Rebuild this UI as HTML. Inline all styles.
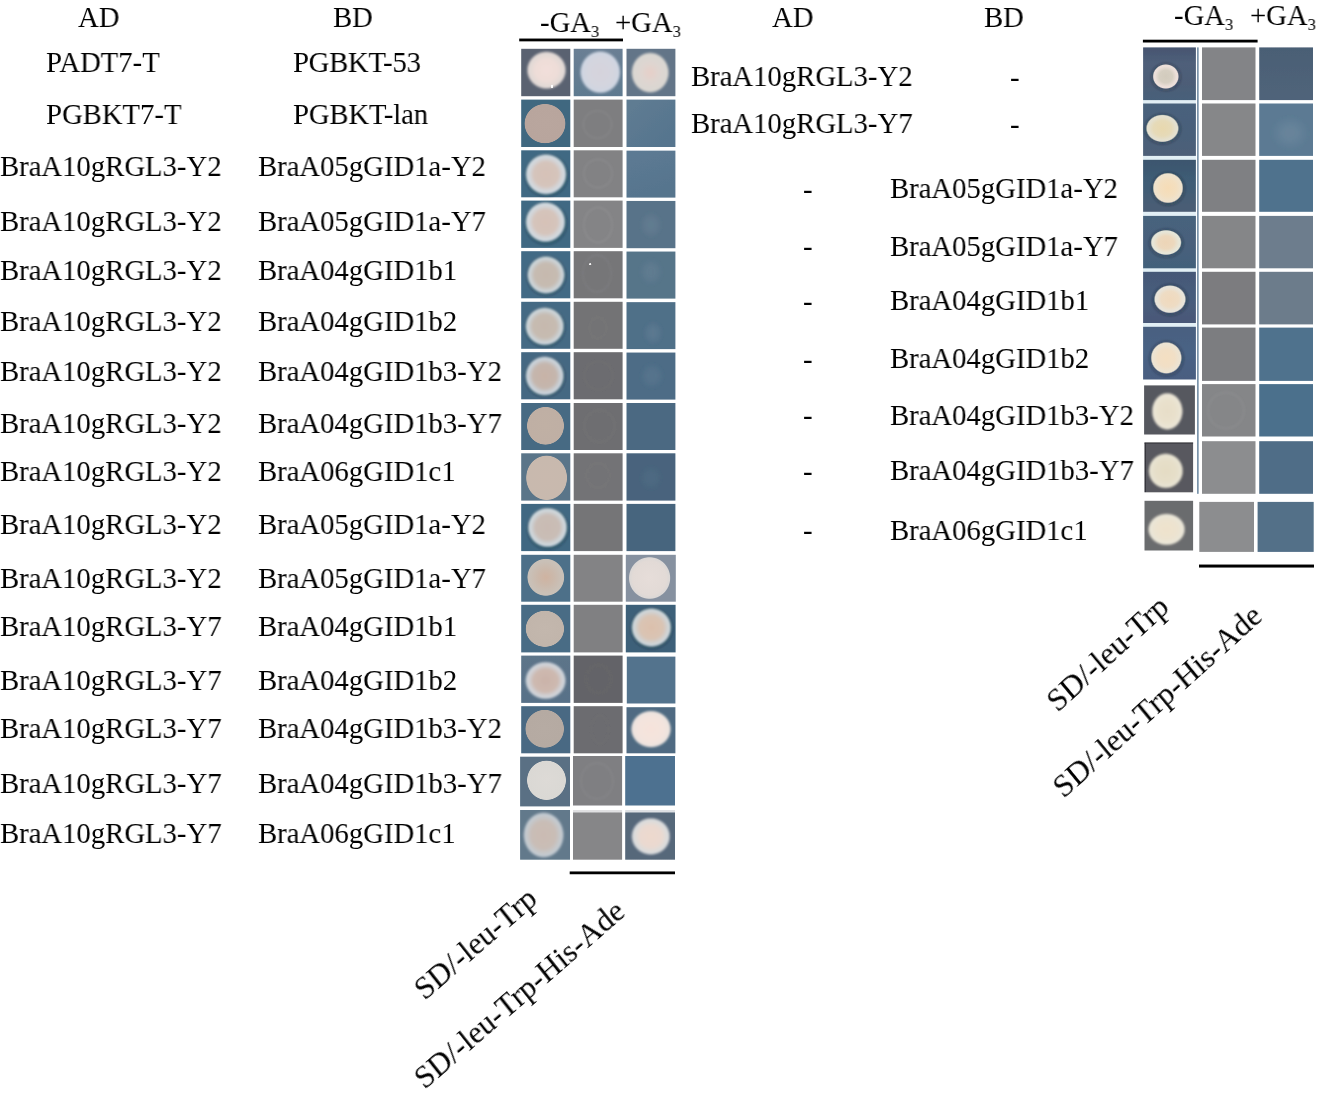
<!DOCTYPE html>
<html lang="en"><head><meta charset="utf-8"><title>Yeast two-hybrid assay</title>
<style>
html,body{margin:0;padding:0;background:#fff}
body{width:1322px;height:1096px;position:relative;overflow:hidden}
.t{position:absolute;font-family:"Liberation Serif","Times New Roman",serif;font-size:29.0px;line-height:29.0px;white-space:nowrap;color:#000;transform-origin:0 0;transform:scaleX(0.9895);will-change:transform}
.r{font-size:30.5px;line-height:30.5px}
.t sub{font-size:16.8px;line-height:0;vertical-align:-4.8px}
.plates{position:absolute;left:0;top:0}
</style></head>
<body>
<svg class="plates" width="1322" height="1096" viewBox="0 0 1322 1096" aria-label="yeast plates"><defs><filter id="soft" x="0" y="0" width="100%" height="100%" filterUnits="userSpaceOnUse"><feGaussianBlur stdDeviation="0.45"/></filter><radialGradient id="g1"><stop offset="0.000" stop-color="#f2dfda"/><stop offset="0.550" stop-color="#eeddd8"/><stop offset="0.820" stop-color="#e2d9d6"/><stop offset="0.910" stop-color="#e2d9d6"/><stop offset="1.000" stop-color="#e2d9d6" stop-opacity="0.00"/></radialGradient><filter id="b0" x="-20%" y="-20%" width="140%" height="140%"><feGaussianBlur stdDeviation="0.9"/></filter><radialGradient id="g2"><stop offset="0.000" stop-color="#ffffff"/><stop offset="0.800" stop-color="#ffffff"/><stop offset="1.000" stop-color="#ffffff" stop-opacity="0.00"/></radialGradient><filter id="b1" x="-20%" y="-20%" width="140%" height="140%"><feGaussianBlur stdDeviation="0.3"/></filter><linearGradient id="l3" x1="0.500" y1="0.000" x2="0.500" y2="1.000"><stop offset="0.000" stop-color="#6a7f94"/><stop offset="1.000" stop-color="#5f7a90"/></linearGradient><radialGradient id="g4"><stop offset="0.000" stop-color="#d6d3dc"/><stop offset="0.700" stop-color="#d3d5df"/><stop offset="0.880" stop-color="#cfd6e2"/><stop offset="0.910" stop-color="#cfd6e2"/><stop offset="1.000" stop-color="#cfd6e2" stop-opacity="0.00"/></radialGradient><filter id="b2" x="-20%" y="-20%" width="140%" height="140%"><feGaussianBlur stdDeviation="1.0"/></filter><radialGradient id="g5"><stop offset="0.000" stop-color="#e6cfc8"/><stop offset="0.450" stop-color="#dfd5d0"/><stop offset="0.800" stop-color="#dad7d2"/><stop offset="0.910" stop-color="#dad7d2"/><stop offset="1.000" stop-color="#dad7d2" stop-opacity="0.00"/></radialGradient><radialGradient id="g6"><stop offset="0.000" stop-color="#b9a69e"/><stop offset="0.960" stop-color="#b8a59d"/><stop offset="1.000" stop-color="#b8a59d" stop-opacity="0.00"/></radialGradient><filter id="b3" x="-20%" y="-20%" width="140%" height="140%"><feGaussianBlur stdDeviation="0.35"/></filter><radialGradient id="g7"><stop offset="0.000" stop-color="#aaaaac" stop-opacity="0.00"/><stop offset="0.880" stop-color="#aaaaac" stop-opacity="0.00"/><stop offset="0.940" stop-color="#aaaaac" stop-opacity="0.28"/><stop offset="1.000" stop-color="#aaaaac" stop-opacity="0.00"/></radialGradient><filter id="b4" x="-20%" y="-20%" width="140%" height="140%"><feGaussianBlur stdDeviation="0.8"/></filter><linearGradient id="l8" x1="0.146" y1="0.146" x2="0.854" y2="0.854"><stop offset="0.000" stop-color="#5e7b92"/><stop offset="1.000" stop-color="#56758e"/></linearGradient><radialGradient id="g9"><stop offset="0.000" stop-color="#141e28" stop-opacity="0.00"/><stop offset="0.700" stop-color="#141e28" stop-opacity="0.00"/><stop offset="0.880" stop-color="#141e28" stop-opacity="0.30"/><stop offset="1.000" stop-color="#141e28" stop-opacity="0.00"/></radialGradient><filter id="b5" x="-20%" y="-20%" width="140%" height="140%"><feGaussianBlur stdDeviation="1.2"/></filter><radialGradient id="g10"><stop offset="0.000" stop-color="#d6c1b7"/><stop offset="0.580" stop-color="#d5c4bb"/><stop offset="0.760" stop-color="#d3d4d7"/><stop offset="0.880" stop-color="#d2dae0"/><stop offset="0.910" stop-color="#d2dae0"/><stop offset="1.000" stop-color="#d2dae0" stop-opacity="0.00"/></radialGradient><radialGradient id="g11"><stop offset="0.000" stop-color="#afafb2" stop-opacity="0.00"/><stop offset="0.880" stop-color="#afafb2" stop-opacity="0.00"/><stop offset="0.940" stop-color="#afafb2" stop-opacity="0.28"/><stop offset="1.000" stop-color="#afafb2" stop-opacity="0.00"/></radialGradient><linearGradient id="l12" x1="0.329" y1="0.030" x2="0.671" y2="0.970"><stop offset="0.000" stop-color="#5c7a93"/><stop offset="1.000" stop-color="#56748d"/></linearGradient><radialGradient id="g13"><stop offset="0.000" stop-color="#141e28" stop-opacity="0.00"/><stop offset="0.700" stop-color="#141e28" stop-opacity="0.00"/><stop offset="0.880" stop-color="#141e28" stop-opacity="0.30"/><stop offset="1.000" stop-color="#141e28" stop-opacity="0.00"/></radialGradient><radialGradient id="g14"><stop offset="0.000" stop-color="#d6c1b7"/><stop offset="0.580" stop-color="#d5c4bb"/><stop offset="0.760" stop-color="#d3d4d7"/><stop offset="0.880" stop-color="#d2dae0"/><stop offset="0.910" stop-color="#d2dae0"/><stop offset="1.000" stop-color="#d2dae0" stop-opacity="0.00"/></radialGradient><radialGradient id="g15"><stop offset="0.000" stop-color="#b2b0b2" stop-opacity="0.00"/><stop offset="0.880" stop-color="#b2b0b2" stop-opacity="0.00"/><stop offset="0.940" stop-color="#b2b0b2" stop-opacity="0.28"/><stop offset="1.000" stop-color="#b2b0b2" stop-opacity="0.00"/></radialGradient><radialGradient id="g16"><stop offset="0.000" stop-color="#788c9e" stop-opacity="0.30"/><stop offset="0.400" stop-color="#788c9e" stop-opacity="0.30"/><stop offset="1.000" stop-color="#788c9e" stop-opacity="0.00"/></radialGradient><filter id="b6" x="-20%" y="-20%" width="140%" height="140%"><feGaussianBlur stdDeviation="1.5"/></filter><radialGradient id="g17"><stop offset="0.000" stop-color="#141e28" stop-opacity="0.00"/><stop offset="0.700" stop-color="#141e28" stop-opacity="0.00"/><stop offset="0.880" stop-color="#141e28" stop-opacity="0.30"/><stop offset="1.000" stop-color="#141e28" stop-opacity="0.00"/></radialGradient><radialGradient id="g18"><stop offset="0.000" stop-color="#c6b9ae"/><stop offset="0.600" stop-color="#c6bbb1"/><stop offset="0.790" stop-color="#cacecf"/><stop offset="0.890" stop-color="#ced7dc"/><stop offset="0.910" stop-color="#ced7dc"/><stop offset="1.000" stop-color="#ced7dc" stop-opacity="0.00"/></radialGradient><radialGradient id="g19"><stop offset="0.000" stop-color="#969698" stop-opacity="0.00"/><stop offset="0.880" stop-color="#969698" stop-opacity="0.00"/><stop offset="0.940" stop-color="#969698" stop-opacity="0.28"/><stop offset="1.000" stop-color="#969698" stop-opacity="0.00"/></radialGradient><radialGradient id="g20"><stop offset="0.000" stop-color="#f4f4f4"/><stop offset="0.800" stop-color="#f4f4f4"/><stop offset="1.000" stop-color="#f4f4f4" stop-opacity="0.00"/></radialGradient><radialGradient id="g21"><stop offset="0.000" stop-color="#708a9e" stop-opacity="0.30"/><stop offset="0.400" stop-color="#708a9e" stop-opacity="0.30"/><stop offset="1.000" stop-color="#708a9e" stop-opacity="0.00"/></radialGradient><radialGradient id="g22"><stop offset="0.000" stop-color="#141e28" stop-opacity="0.00"/><stop offset="0.700" stop-color="#141e28" stop-opacity="0.00"/><stop offset="0.880" stop-color="#141e28" stop-opacity="0.30"/><stop offset="1.000" stop-color="#141e28" stop-opacity="0.00"/></radialGradient><radialGradient id="g23"><stop offset="0.000" stop-color="#c6b9ae"/><stop offset="0.600" stop-color="#c6bbb1"/><stop offset="0.790" stop-color="#cacecf"/><stop offset="0.890" stop-color="#ced7dc"/><stop offset="0.910" stop-color="#ced7dc"/><stop offset="1.000" stop-color="#ced7dc" stop-opacity="0.00"/></radialGradient><radialGradient id="g24"><stop offset="0.000" stop-color="#8c8c8f" stop-opacity="0.00"/><stop offset="0.880" stop-color="#8c8c8f" stop-opacity="0.00"/><stop offset="0.940" stop-color="#8c8c8f" stop-opacity="0.25"/><stop offset="1.000" stop-color="#8c8c8f" stop-opacity="0.00"/></radialGradient><radialGradient id="g25"><stop offset="0.000" stop-color="#738ca0" stop-opacity="0.30"/><stop offset="0.400" stop-color="#738ca0" stop-opacity="0.30"/><stop offset="1.000" stop-color="#738ca0" stop-opacity="0.00"/></radialGradient><radialGradient id="g26"><stop offset="0.000" stop-color="#141e28" stop-opacity="0.00"/><stop offset="0.700" stop-color="#141e28" stop-opacity="0.00"/><stop offset="0.880" stop-color="#141e28" stop-opacity="0.30"/><stop offset="1.000" stop-color="#141e28" stop-opacity="0.00"/></radialGradient><radialGradient id="g27"><stop offset="0.000" stop-color="#c7b3a7"/><stop offset="0.600" stop-color="#c5b6ad"/><stop offset="0.790" stop-color="#c8cdd2"/><stop offset="0.890" stop-color="#ccd5dd"/><stop offset="0.910" stop-color="#ccd5dd"/><stop offset="1.000" stop-color="#ccd5dd" stop-opacity="0.00"/></radialGradient><radialGradient id="g28"><stop offset="0.000" stop-color="#808083" stop-opacity="0.00"/><stop offset="0.880" stop-color="#808083" stop-opacity="0.00"/><stop offset="0.940" stop-color="#808083" stop-opacity="0.25"/><stop offset="1.000" stop-color="#808083" stop-opacity="0.00"/></radialGradient><radialGradient id="g29"><stop offset="0.000" stop-color="#69849b" stop-opacity="0.28"/><stop offset="0.400" stop-color="#69849b" stop-opacity="0.28"/><stop offset="1.000" stop-color="#69849b" stop-opacity="0.00"/></radialGradient><radialGradient id="g30"><stop offset="0.000" stop-color="#c0b0a4"/><stop offset="0.960" stop-color="#bfafa4"/><stop offset="1.000" stop-color="#bfafa4" stop-opacity="0.00"/></radialGradient><radialGradient id="g31"><stop offset="0.000" stop-color="#808083" stop-opacity="0.00"/><stop offset="0.880" stop-color="#808083" stop-opacity="0.00"/><stop offset="0.940" stop-color="#808083" stop-opacity="0.25"/><stop offset="1.000" stop-color="#808083" stop-opacity="0.00"/></radialGradient><clipPath id="c32"><rect x="521.20" y="453.30" width="49.10" height="47.30"/></clipPath><radialGradient id="g33"><stop offset="0.000" stop-color="#c9b9ae"/><stop offset="0.960" stop-color="#c8b9ae"/><stop offset="1.000" stop-color="#c8b9ae" stop-opacity="0.00"/></radialGradient><radialGradient id="g34"><stop offset="0.000" stop-color="#848284" stop-opacity="0.00"/><stop offset="0.880" stop-color="#848284" stop-opacity="0.00"/><stop offset="0.940" stop-color="#848284" stop-opacity="0.25"/><stop offset="1.000" stop-color="#848284" stop-opacity="0.00"/></radialGradient><radialGradient id="g35"><stop offset="0.000" stop-color="#5f788f" stop-opacity="0.25"/><stop offset="0.400" stop-color="#5f788f" stop-opacity="0.25"/><stop offset="1.000" stop-color="#5f788f" stop-opacity="0.00"/></radialGradient><radialGradient id="g36"><stop offset="0.000" stop-color="#141e28" stop-opacity="0.00"/><stop offset="0.700" stop-color="#141e28" stop-opacity="0.00"/><stop offset="0.880" stop-color="#141e28" stop-opacity="0.30"/><stop offset="1.000" stop-color="#141e28" stop-opacity="0.00"/></radialGradient><radialGradient id="g37"><stop offset="0.000" stop-color="#c9bbb3"/><stop offset="0.600" stop-color="#c9bdb6"/><stop offset="0.790" stop-color="#cdd2d5"/><stop offset="0.890" stop-color="#d0d9de"/><stop offset="0.910" stop-color="#d0d9de"/><stop offset="1.000" stop-color="#d0d9de" stop-opacity="0.00"/></radialGradient><radialGradient id="g38"><stop offset="0.000" stop-color="#cfb3a1"/><stop offset="0.400" stop-color="#cbb8aa"/><stop offset="0.850" stop-color="#c9c0b7"/><stop offset="0.950" stop-color="#c9c0b7"/><stop offset="1.000" stop-color="#c9c0b7" stop-opacity="0.00"/></radialGradient><filter id="b7" x="-20%" y="-20%" width="140%" height="140%"><feGaussianBlur stdDeviation="0.5"/></filter><radialGradient id="g39"><stop offset="0.000" stop-color="#e6ddd9"/><stop offset="0.800" stop-color="#e2dad6"/><stop offset="0.920" stop-color="#dcd8d6"/><stop offset="0.950" stop-color="#dcd8d6"/><stop offset="1.000" stop-color="#dcd8d6" stop-opacity="0.00"/></radialGradient><radialGradient id="g40"><stop offset="0.000" stop-color="#c3b7ad"/><stop offset="0.960" stop-color="#c1b5ab"/><stop offset="1.000" stop-color="#c1b5ab" stop-opacity="0.00"/></radialGradient><radialGradient id="g41"><stop offset="0.000" stop-color="#141e28" stop-opacity="0.00"/><stop offset="0.700" stop-color="#141e28" stop-opacity="0.00"/><stop offset="0.880" stop-color="#141e28" stop-opacity="0.30"/><stop offset="1.000" stop-color="#141e28" stop-opacity="0.00"/></radialGradient><radialGradient id="g42"><stop offset="0.000" stop-color="#dcc0ac"/><stop offset="0.580" stop-color="#d9c4b4"/><stop offset="0.780" stop-color="#d0d1d1"/><stop offset="0.890" stop-color="#cfd8dc"/><stop offset="0.910" stop-color="#cfd8dc"/><stop offset="1.000" stop-color="#cfd8dc" stop-opacity="0.00"/></radialGradient><linearGradient id="l43" x1="0.500" y1="0.000" x2="0.500" y2="1.000"><stop offset="0.000" stop-color="#5d7489"/><stop offset="1.000" stop-color="#587188"/></linearGradient><radialGradient id="g44"><stop offset="0.000" stop-color="#cbb3a9"/><stop offset="0.580" stop-color="#cdb9b0"/><stop offset="0.780" stop-color="#d0cfd2"/><stop offset="0.890" stop-color="#cfd4da"/><stop offset="0.910" stop-color="#cfd4da"/><stop offset="1.000" stop-color="#cfd4da" stop-opacity="0.00"/></radialGradient><radialGradient id="g45"><stop offset="0.000" stop-color="#78787b" stop-opacity="0.00"/><stop offset="0.880" stop-color="#78787b" stop-opacity="0.00"/><stop offset="0.940" stop-color="#78787b" stop-opacity="0.25"/><stop offset="1.000" stop-color="#78787b" stop-opacity="0.00"/></radialGradient><radialGradient id="g46"><stop offset="0.000" stop-color="#b6aba3"/><stop offset="0.960" stop-color="#b5aaa2"/><stop offset="1.000" stop-color="#b5aaa2" stop-opacity="0.00"/></radialGradient><radialGradient id="g47"><stop offset="0.000" stop-color="#7e7e81" stop-opacity="0.00"/><stop offset="0.880" stop-color="#7e7e81" stop-opacity="0.00"/><stop offset="0.940" stop-color="#7e7e81" stop-opacity="0.25"/><stop offset="1.000" stop-color="#7e7e81" stop-opacity="0.00"/></radialGradient><radialGradient id="g48"><stop offset="0.000" stop-color="#f6e3db"/><stop offset="0.700" stop-color="#f3e4de"/><stop offset="0.900" stop-color="#ebe3df"/><stop offset="0.940" stop-color="#ebe3df"/><stop offset="1.000" stop-color="#ebe3df" stop-opacity="0.00"/></radialGradient><radialGradient id="g49"><stop offset="0.000" stop-color="#dddad6"/><stop offset="0.960" stop-color="#dad8d4"/><stop offset="1.000" stop-color="#dad8d4" stop-opacity="0.00"/></radialGradient><radialGradient id="g50"><stop offset="0.000" stop-color="#a0a0a3" stop-opacity="0.00"/><stop offset="0.880" stop-color="#a0a0a3" stop-opacity="0.00"/><stop offset="0.940" stop-color="#a0a0a3" stop-opacity="0.25"/><stop offset="1.000" stop-color="#a0a0a3" stop-opacity="0.00"/></radialGradient><clipPath id="c51"><rect x="520.10" y="810.00" width="49.90" height="49.70"/></clipPath><radialGradient id="g52"><stop offset="0.000" stop-color="#cabbb3"/><stop offset="0.580" stop-color="#c9bdb6"/><stop offset="0.800" stop-color="#c5c8cb"/><stop offset="0.900" stop-color="#c3cbd2"/><stop offset="0.910" stop-color="#c3cbd2"/><stop offset="1.000" stop-color="#c3cbd2" stop-opacity="0.00"/></radialGradient><linearGradient id="l53" x1="0.500" y1="0.000" x2="0.500" y2="1.000"><stop offset="0.000" stop-color="#e0e0e2"/><stop offset="0.040" stop-color="#e0e0e2"/><stop offset="0.060" stop-color="#868688"/><stop offset="1.000" stop-color="#868688"/></linearGradient><linearGradient id="l54" x1="0.500" y1="0.000" x2="0.500" y2="1.000"><stop offset="0.000" stop-color="#dde0e4"/><stop offset="0.040" stop-color="#dde0e4"/><stop offset="0.060" stop-color="#56677a"/><stop offset="1.000" stop-color="#56677a"/></linearGradient><radialGradient id="g55"><stop offset="0.000" stop-color="#edd9ce"/><stop offset="0.550" stop-color="#ead9d0"/><stop offset="0.780" stop-color="#dedcda"/><stop offset="0.880" stop-color="#d8dadc"/><stop offset="0.910" stop-color="#d8dadc"/><stop offset="1.000" stop-color="#d8dadc" stop-opacity="0.00"/></radialGradient><linearGradient id="l56" x1="0.500" y1="0.000" x2="0.500" y2="1.000"><stop offset="0.000" stop-color="#465570"/><stop offset="0.300" stop-color="#4f5f7a"/><stop offset="0.700" stop-color="#4d5d77"/><stop offset="1.000" stop-color="#47607a"/></linearGradient><radialGradient id="g57"><stop offset="0.000" stop-color="#191c2a" stop-opacity="0.00"/><stop offset="0.700" stop-color="#191c2a" stop-opacity="0.00"/><stop offset="0.880" stop-color="#191c2a" stop-opacity="0.30"/><stop offset="1.000" stop-color="#191c2a" stop-opacity="0.00"/></radialGradient><radialGradient id="g58"><stop offset="0.000" stop-color="#d2cbbd"/><stop offset="0.500" stop-color="#d6cfc2"/><stop offset="0.800" stop-color="#ecdfd9"/><stop offset="0.910" stop-color="#ecdfd9"/><stop offset="1.000" stop-color="#ecdfd9" stop-opacity="0.00"/></radialGradient><filter id="b8" x="-20%" y="-20%" width="140%" height="140%"><feGaussianBlur stdDeviation="0.7"/></filter><linearGradient id="l59" x1="0.500" y1="0.000" x2="0.500" y2="1.000"><stop offset="0.000" stop-color="#4a5f75"/><stop offset="1.000" stop-color="#50647a"/></linearGradient><linearGradient id="l60" x1="0.500" y1="0.000" x2="0.500" y2="1.000"><stop offset="0.000" stop-color="#4a627c"/><stop offset="0.600" stop-color="#49607a"/><stop offset="1.000" stop-color="#4e5f78"/></linearGradient><radialGradient id="g61"><stop offset="0.000" stop-color="#191c2a" stop-opacity="0.00"/><stop offset="0.700" stop-color="#191c2a" stop-opacity="0.00"/><stop offset="0.880" stop-color="#191c2a" stop-opacity="0.30"/><stop offset="1.000" stop-color="#191c2a" stop-opacity="0.00"/></radialGradient><radialGradient id="g62"><stop offset="0.000" stop-color="#e8d8ae"/><stop offset="0.550" stop-color="#e6dab8"/><stop offset="0.820" stop-color="#e4e0cf"/><stop offset="0.910" stop-color="#e4e0cf"/><stop offset="1.000" stop-color="#e4e0cf" stop-opacity="0.00"/></radialGradient><radialGradient id="g63"><stop offset="0.000" stop-color="#8096a8" stop-opacity="0.30"/><stop offset="0.400" stop-color="#8096a8" stop-opacity="0.30"/><stop offset="1.000" stop-color="#8096a8" stop-opacity="0.00"/></radialGradient><linearGradient id="l64" x1="0.500" y1="0.000" x2="0.500" y2="1.000"><stop offset="0.000" stop-color="#3c566e"/><stop offset="0.450" stop-color="#3f5d76"/><stop offset="1.000" stop-color="#4b5d74"/></linearGradient><radialGradient id="g65"><stop offset="0.000" stop-color="#191c2a" stop-opacity="0.00"/><stop offset="0.700" stop-color="#191c2a" stop-opacity="0.00"/><stop offset="0.880" stop-color="#191c2a" stop-opacity="0.30"/><stop offset="1.000" stop-color="#191c2a" stop-opacity="0.00"/></radialGradient><radialGradient id="g66"><stop offset="0.000" stop-color="#f6dcb6"/><stop offset="0.550" stop-color="#f3dfc0"/><stop offset="0.820" stop-color="#efe2cc"/><stop offset="0.910" stop-color="#efe2cc"/><stop offset="1.000" stop-color="#efe2cc" stop-opacity="0.00"/></radialGradient><linearGradient id="l67" x1="0.500" y1="0.000" x2="0.500" y2="1.000"><stop offset="0.000" stop-color="#47637d"/><stop offset="0.550" stop-color="#48607c"/><stop offset="1.000" stop-color="#42607a"/></linearGradient><radialGradient id="g68"><stop offset="0.000" stop-color="#191c2a" stop-opacity="0.00"/><stop offset="0.700" stop-color="#191c2a" stop-opacity="0.00"/><stop offset="0.880" stop-color="#191c2a" stop-opacity="0.30"/><stop offset="1.000" stop-color="#191c2a" stop-opacity="0.00"/></radialGradient><radialGradient id="g69"><stop offset="0.000" stop-color="#edd5b7"/><stop offset="0.500" stop-color="#ecd8bd"/><stop offset="0.820" stop-color="#e6e6d8"/><stop offset="0.910" stop-color="#e6e6d8"/><stop offset="1.000" stop-color="#e6e6d8" stop-opacity="0.00"/></radialGradient><linearGradient id="l70" x1="0.500" y1="0.000" x2="0.500" y2="1.000"><stop offset="0.000" stop-color="#455877"/><stop offset="0.500" stop-color="#475d7c"/><stop offset="1.000" stop-color="#4a5878"/></linearGradient><radialGradient id="g71"><stop offset="0.000" stop-color="#191c2a" stop-opacity="0.00"/><stop offset="0.700" stop-color="#191c2a" stop-opacity="0.00"/><stop offset="0.880" stop-color="#191c2a" stop-opacity="0.30"/><stop offset="1.000" stop-color="#191c2a" stop-opacity="0.00"/></radialGradient><radialGradient id="g72"><stop offset="0.000" stop-color="#f0d9bd"/><stop offset="0.550" stop-color="#eedcc4"/><stop offset="0.820" stop-color="#e8e4da"/><stop offset="0.910" stop-color="#e8e4da"/><stop offset="1.000" stop-color="#e8e4da" stop-opacity="0.00"/></radialGradient><linearGradient id="l73" x1="0.500" y1="0.000" x2="0.500" y2="1.000"><stop offset="0.000" stop-color="#4a6080"/><stop offset="0.500" stop-color="#4a6385"/><stop offset="1.000" stop-color="#485d80"/></linearGradient><radialGradient id="g74"><stop offset="0.000" stop-color="#191c2a" stop-opacity="0.00"/><stop offset="0.700" stop-color="#191c2a" stop-opacity="0.00"/><stop offset="0.880" stop-color="#191c2a" stop-opacity="0.30"/><stop offset="1.000" stop-color="#191c2a" stop-opacity="0.00"/></radialGradient><radialGradient id="g75"><stop offset="0.000" stop-color="#f4dfc2"/><stop offset="0.550" stop-color="#f1dfc6"/><stop offset="0.820" stop-color="#ece3d2"/><stop offset="0.910" stop-color="#ece3d2"/><stop offset="1.000" stop-color="#ece3d2" stop-opacity="0.00"/></radialGradient><radialGradient id="g76"><stop offset="0.000" stop-color="#e7dec8"/><stop offset="0.600" stop-color="#e9e1cd"/><stop offset="0.850" stop-color="#ebe5d6"/><stop offset="0.910" stop-color="#ebe5d6"/><stop offset="1.000" stop-color="#ebe5d6" stop-opacity="0.00"/></radialGradient><radialGradient id="g77"><stop offset="0.000" stop-color="#a5a6a8" stop-opacity="0.00"/><stop offset="0.880" stop-color="#a5a6a8" stop-opacity="0.00"/><stop offset="0.940" stop-color="#a5a6a8" stop-opacity="0.25"/><stop offset="1.000" stop-color="#a5a6a8" stop-opacity="0.00"/></radialGradient><linearGradient id="l78" x1="0.000" y1="0.500" x2="1.000" y2="0.500"><stop offset="0.000" stop-color="#2c2c33"/><stop offset="0.016" stop-color="#2c2c33"/><stop offset="0.035" stop-color="#58585e"/><stop offset="1.000" stop-color="#58585e"/></linearGradient><radialGradient id="g79"><stop offset="0.000" stop-color="#e4dcc4"/><stop offset="0.600" stop-color="#e6dfc9"/><stop offset="0.850" stop-color="#e8e3d2"/><stop offset="0.910" stop-color="#e8e3d2"/><stop offset="1.000" stop-color="#e8e3d2" stop-opacity="0.00"/></radialGradient><radialGradient id="g80"><stop offset="0.000" stop-color="#efe2cc"/><stop offset="0.600" stop-color="#ece3d0"/><stop offset="0.850" stop-color="#eae6d8"/><stop offset="0.910" stop-color="#eae6d8"/><stop offset="1.000" stop-color="#eae6d8" stop-opacity="0.00"/></radialGradient></defs>
<g filter="url(#soft)">
<rect x="521.20" y="48.80" width="49.10" height="47.40" fill="#5a6271"/>
<ellipse cx="546.50" cy="70.20" rx="20.00" ry="19.20" fill="url(#g1)" filter="url(#b0)"/>
<ellipse cx="552.00" cy="86.30" rx="1.30" ry="2.00" fill="url(#g2)" filter="url(#b1)"/>
<rect x="573.70" y="48.80" width="48.90" height="47.40" fill="url(#l3)"/>
<ellipse cx="600.30" cy="72.20" rx="20.60" ry="21.60" fill="url(#g4)" filter="url(#b2)"/>
<rect x="626.50" y="48.80" width="48.90" height="47.40" fill="#637588"/>
<ellipse cx="650.20" cy="72.60" rx="19.20" ry="20.60" fill="url(#g5)" filter="url(#b2)"/>
<rect x="521.20" y="99.60" width="49.10" height="47.40" fill="#3f6780"/>
<ellipse cx="545.00" cy="123.60" rx="20.80" ry="20.00" fill="url(#g6)" filter="url(#b3)"/>
<rect x="573.70" y="99.60" width="48.90" height="47.40" fill="#7e7e80"/>
<ellipse cx="597.50" cy="124.50" rx="15.00" ry="14.50" fill="url(#g7)" filter="url(#b4)"/>
<rect x="626.50" y="99.60" width="48.90" height="47.40" fill="url(#l8)"/>
<rect x="521.20" y="150.30" width="49.10" height="47.00" fill="#3f6983"/>
<ellipse cx="546.50" cy="175.50" rx="23.00" ry="22.50" fill="url(#g9)" filter="url(#b5)"/>
<ellipse cx="546.00" cy="174.30" rx="21.00" ry="20.70" fill="url(#g10)" filter="url(#b4)"/>
<rect x="573.70" y="150.30" width="48.90" height="47.00" fill="#828284"/>
<ellipse cx="598.00" cy="173.50" rx="15.00" ry="15.00" fill="url(#g11)" filter="url(#b4)"/>
<rect x="626.50" y="150.65" width="48.90" height="46.95" fill="url(#l12)"/>
<rect x="521.20" y="200.60" width="49.10" height="47.30" fill="#3f6983"/>
<ellipse cx="546.00" cy="223.50" rx="22.50" ry="22.50" fill="url(#g13)" filter="url(#b5)"/>
<ellipse cx="545.40" cy="222.00" rx="20.40" ry="20.50" fill="url(#g14)" filter="url(#b4)"/>
<rect x="573.70" y="200.60" width="48.90" height="47.30" fill="#848486"/>
<ellipse cx="598.00" cy="225.00" rx="15.00" ry="18.50" fill="url(#g15)" filter="url(#b4)"/>
<rect x="626.50" y="200.95" width="48.90" height="47.25" fill="#587389"/>
<ellipse cx="651.00" cy="225.00" rx="11.00" ry="13.00" fill="url(#g16)" filter="url(#b6)"/>
<rect x="521.20" y="251.20" width="49.10" height="47.10" fill="#436a85"/>
<ellipse cx="546.30" cy="276.00" rx="21.00" ry="21.00" fill="url(#g17)" filter="url(#b5)"/>
<ellipse cx="546.00" cy="274.90" rx="19.20" ry="19.20" fill="url(#g18)" filter="url(#b4)"/>
<rect x="573.70" y="251.20" width="48.90" height="47.10" fill="#767678"/>
<ellipse cx="597.00" cy="273.50" rx="15.00" ry="19.50" fill="url(#g19)" filter="url(#b4)"/>
<ellipse cx="590.30" cy="264.20" rx="1.30" ry="1.30" fill="url(#g20)" filter="url(#b1)"/>
<rect x="626.50" y="251.55" width="48.90" height="47.05" fill="#567489"/>
<ellipse cx="651.00" cy="272.00" rx="12.00" ry="14.00" fill="url(#g21)" filter="url(#b6)"/>
<rect x="521.20" y="301.80" width="49.10" height="47.00" fill="#446a84"/>
<ellipse cx="545.00" cy="327.50" rx="21.50" ry="21.00" fill="url(#g22)" filter="url(#b5)"/>
<ellipse cx="544.70" cy="326.30" rx="19.80" ry="19.40" fill="url(#g23)" filter="url(#b4)"/>
<rect x="573.70" y="301.80" width="48.90" height="47.00" fill="#737375"/>
<ellipse cx="598.00" cy="328.00" rx="9.00" ry="11.00" fill="url(#g24)" filter="url(#b4)"/>
<rect x="626.50" y="302.15" width="48.90" height="46.95" fill="#4f6f88"/>
<ellipse cx="653.00" cy="333.00" rx="10.00" ry="12.00" fill="url(#g25)" filter="url(#b6)"/>
<rect x="521.20" y="352.20" width="49.10" height="47.10" fill="#456882"/>
<ellipse cx="545.00" cy="377.00" rx="21.50" ry="21.50" fill="url(#g26)" filter="url(#b5)"/>
<ellipse cx="544.70" cy="375.90" rx="19.70" ry="20.10" fill="url(#g27)" filter="url(#b4)"/>
<rect x="573.70" y="352.20" width="48.90" height="47.10" fill="#6c6c6f"/>
<ellipse cx="598.50" cy="375.50" rx="15.00" ry="15.00" fill="url(#g28)" filter="url(#b4)"/>
<rect x="626.50" y="352.55" width="48.90" height="47.05" fill="#4d6c86"/>
<ellipse cx="652.00" cy="376.00" rx="12.00" ry="13.00" fill="url(#g29)" filter="url(#b6)"/>
<rect x="521.20" y="403.00" width="49.10" height="47.00" fill="#476a83"/>
<ellipse cx="545.50" cy="425.80" rx="18.80" ry="19.20" fill="url(#g30)" filter="url(#b3)"/>
<rect x="573.70" y="403.00" width="48.90" height="47.00" fill="#6e6e71"/>
<ellipse cx="599.50" cy="426.00" rx="16.00" ry="17.00" fill="url(#g31)" filter="url(#b4)"/>
<rect x="626.50" y="403.00" width="48.90" height="47.00" fill="#4b6982"/>
<rect x="521.20" y="453.30" width="49.10" height="47.30" fill="#5a7589"/>
<g clip-path="url(#c32)">
<ellipse cx="546.60" cy="477.80" rx="20.80" ry="22.60" fill="url(#g33)" filter="url(#b3)"/>
</g>
<rect x="573.70" y="453.30" width="48.90" height="47.30" fill="#737376"/>
<ellipse cx="598.00" cy="475.50" rx="12.00" ry="13.00" fill="url(#g34)" filter="url(#b4)"/>
<rect x="626.50" y="453.30" width="48.90" height="47.30" fill="#48647d"/>
<ellipse cx="651.00" cy="478.00" rx="11.00" ry="12.00" fill="url(#g35)" filter="url(#b6)"/>
<rect x="521.20" y="503.90" width="49.10" height="47.20" fill="#3f6882"/>
<ellipse cx="548.00" cy="529.00" rx="22.00" ry="22.00" fill="url(#g36)" filter="url(#b5)"/>
<ellipse cx="547.50" cy="527.40" rx="20.20" ry="20.20" fill="url(#g37)" filter="url(#b4)"/>
<rect x="573.70" y="503.90" width="48.90" height="47.20" fill="#747477"/>
<rect x="626.50" y="503.90" width="48.90" height="47.20" fill="#47657e"/>
<rect x="521.20" y="554.80" width="49.10" height="46.90" fill="#4d7089"/>
<ellipse cx="545.80" cy="577.30" rx="18.80" ry="18.90" fill="url(#g38)" filter="url(#b7)"/>
<rect x="573.70" y="554.80" width="48.90" height="46.90" fill="#838385"/>
<rect x="625.80" y="554.80" width="50.00" height="46.90" fill="#8691a0"/>
<ellipse cx="649.60" cy="578.00" rx="21.10" ry="21.30" fill="url(#g39)" filter="url(#b7)"/>
<rect x="521.20" y="604.80" width="49.10" height="47.60" fill="#4a6c85"/>
<ellipse cx="544.90" cy="628.80" rx="19.50" ry="18.40" fill="url(#g40)" filter="url(#b3)"/>
<rect x="573.70" y="604.80" width="48.90" height="47.60" fill="#808082"/>
<rect x="625.80" y="604.80" width="49.80" height="47.60" fill="#3d6079"/>
<ellipse cx="651.60" cy="628.50" rx="22.50" ry="22.00" fill="url(#g41)" filter="url(#b5)"/>
<ellipse cx="651.40" cy="627.50" rx="20.40" ry="19.80" fill="url(#g42)" filter="url(#b4)"/>
<rect x="521.20" y="655.60" width="49.10" height="47.30" fill="url(#l43)"/>
<ellipse cx="545.60" cy="680.50" rx="20.80" ry="19.20" fill="url(#g44)" filter="url(#b2)"/>
<rect x="573.70" y="655.60" width="48.90" height="47.30" fill="#646467"/>
<ellipse cx="598.50" cy="679.00" rx="13.00" ry="15.00" fill="url(#g45)" filter="url(#b4)"/>
<rect x="626.80" y="656.60" width="48.60" height="46.90" fill="#53738d"/>
<rect x="521.20" y="706.20" width="49.10" height="47.10" fill="#486983"/>
<ellipse cx="544.70" cy="728.80" rx="19.60" ry="19.30" fill="url(#g46)" filter="url(#b3)"/>
<rect x="573.70" y="706.20" width="48.90" height="47.10" fill="#6c6c6f"/>
<ellipse cx="600.00" cy="729.50" rx="9.00" ry="15.00" fill="url(#g47)" filter="url(#b4)"/>
<rect x="626.50" y="707.20" width="48.90" height="46.10" fill="#4f6b82"/>
<ellipse cx="651.00" cy="729.10" rx="20.20" ry="18.60" fill="url(#g48)" filter="url(#b4)"/>
<rect x="520.10" y="756.70" width="49.90" height="49.70" fill="#5a7084"/>
<ellipse cx="546.50" cy="780.30" rx="19.80" ry="20.00" fill="url(#g49)" filter="url(#b3)"/>
<rect x="573.00" y="756.00" width="49.10" height="49.50" fill="#7f7f82"/>
<ellipse cx="597.00" cy="781.00" rx="17.00" ry="19.00" fill="url(#g50)" filter="url(#b4)"/>
<rect x="625.20" y="756.00" width="49.80" height="49.50" fill="#4d7190"/>
<rect x="520.10" y="810.00" width="49.90" height="49.70" fill="#62798b"/>
<g clip-path="url(#c51)">
<ellipse cx="543.60" cy="835.00" rx="20.70" ry="23.20" fill="url(#g52)" filter="url(#b2)"/>
</g>
<rect x="573.00" y="810.00" width="49.10" height="49.70" fill="url(#l53)"/>
<rect x="625.20" y="810.00" width="49.80" height="49.70" fill="url(#l54)"/>
<ellipse cx="650.80" cy="836.40" rx="19.80" ry="18.90" fill="url(#g55)" filter="url(#b4)"/>
<rect x="1143.1" y="99.5" width="52.8" height="4.5" fill="#e2eff5"/>
<rect x="1143.1" y="155.5" width="52.8" height="4.7" fill="#e2eff5"/>
<rect x="1143.1" y="211.4" width="52.8" height="4.9" fill="#e2eff5"/>
<rect x="1143.1" y="267.9" width="52.8" height="4.3" fill="#e2eff5"/>
<rect x="1143.1" y="322.6" width="52.8" height="4.6" fill="#e2eff5"/>
<rect x="1143.10" y="47.40" width="52.80" height="52.70" fill="url(#l56)"/>
<ellipse cx="1166.00" cy="77.00" rx="16.00" ry="15.00" fill="url(#g57)" filter="url(#b5)"/>
<ellipse cx="1165.80" cy="76.50" rx="13.30" ry="12.60" fill="url(#g58)" filter="url(#b8)"/>
<rect x="1202.00" y="47.40" width="53.50" height="52.70" fill="#838487"/>
<rect x="1259.20" y="47.40" width="53.80" height="52.70" fill="url(#l59)"/>
<rect x="1143.10" y="103.50" width="52.80" height="52.40" fill="url(#l60)"/>
<ellipse cx="1162.60" cy="129.00" rx="19.50" ry="16.50" fill="url(#g61)" filter="url(#b5)"/>
<ellipse cx="1162.40" cy="128.40" rx="16.70" ry="14.10" fill="url(#g62)" filter="url(#b8)"/>
<rect x="1202.00" y="103.50" width="53.50" height="52.40" fill="#868789"/>
<rect x="1259.20" y="103.50" width="53.80" height="52.40" fill="#5b7a93"/>
<ellipse cx="1290.00" cy="133.00" rx="19.00" ry="17.00" fill="url(#g63)" filter="url(#b6)"/>
<rect x="1143.10" y="159.80" width="52.80" height="52.00" fill="url(#l64)"/>
<ellipse cx="1168.30" cy="188.80" rx="18.00" ry="18.00" fill="url(#g65)" filter="url(#b5)"/>
<ellipse cx="1168.00" cy="188.00" rx="15.50" ry="15.50" fill="url(#g66)" filter="url(#b8)"/>
<rect x="1202.00" y="159.80" width="53.50" height="52.00" fill="#7f8083"/>
<rect x="1259.20" y="159.80" width="53.80" height="52.00" fill="#50728d"/>
<rect x="1143.10" y="215.90" width="52.80" height="52.40" fill="url(#l67)"/>
<ellipse cx="1166.30" cy="243.20" rx="18.50" ry="15.50" fill="url(#g68)" filter="url(#b5)"/>
<ellipse cx="1166.10" cy="242.50" rx="15.70" ry="12.80" fill="url(#g69)" filter="url(#b8)"/>
<rect x="1202.00" y="215.90" width="53.50" height="52.40" fill="#858688"/>
<rect x="1259.20" y="215.90" width="53.80" height="52.40" fill="#6d7d8d"/>
<rect x="1143.10" y="271.80" width="52.80" height="51.20" fill="url(#l70)"/>
<ellipse cx="1170.20" cy="300.00" rx="19.00" ry="17.00" fill="url(#g71)" filter="url(#b5)"/>
<ellipse cx="1170.00" cy="299.20" rx="16.20" ry="14.30" fill="url(#g72)" filter="url(#b8)"/>
<rect x="1202.00" y="271.80" width="53.50" height="52.60" fill="#7b7c7f"/>
<rect x="1259.20" y="271.80" width="53.80" height="52.60" fill="#6c7b8b"/>
<rect x="1143.10" y="326.80" width="52.80" height="52.70" fill="url(#l73)"/>
<ellipse cx="1166.50" cy="358.60" rx="18.50" ry="19.00" fill="url(#g74)" filter="url(#b5)"/>
<ellipse cx="1166.30" cy="357.90" rx="15.80" ry="16.20" fill="url(#g75)" filter="url(#b8)"/>
<rect x="1202.00" y="327.60" width="53.50" height="53.30" fill="#7c7d80"/>
<rect x="1259.20" y="327.60" width="53.80" height="53.30" fill="#4f728d"/>
<rect x="1144.10" y="385.40" width="50.80" height="49.10" fill="#56585f"/>
<ellipse cx="1167.30" cy="411.30" rx="15.80" ry="18.90" fill="url(#g76)" filter="url(#b0)"/>
<rect x="1202.00" y="384.10" width="53.50" height="52.40" fill="#858688"/>
<ellipse cx="1226.00" cy="410.50" rx="19.00" ry="19.00" fill="url(#g77)" filter="url(#b4)"/>
<rect x="1259.20" y="384.10" width="53.80" height="52.40" fill="#4c708c"/>
<rect x="1144.50" y="442.60" width="48.60" height="49.70" fill="url(#l78)"/>
<ellipse cx="1165.80" cy="470.90" rx="17.70" ry="17.90" fill="url(#g79)" filter="url(#b0)"/>
<rect x="1202.00" y="441.20" width="53.50" height="52.60" fill="#8c8d8f"/>
<rect x="1259.20" y="441.20" width="53.80" height="52.60" fill="#4f6d87"/>
<rect x="1144.50" y="500.80" width="48.60" height="49.70" fill="#6b6c6e"/>
<ellipse cx="1166.60" cy="529.40" rx="18.90" ry="16.20" fill="url(#g80)" filter="url(#b0)"/>
<rect x="1199.30" y="501.90" width="54.70" height="50.00" fill="#8c8d8f"/>
<rect x="1257.60" y="501.90" width="56.10" height="50.00" fill="#526f88"/>
<rect x="1197.0" y="47.4" width="1.7" height="446.4" fill="#7b95ab"/>
<rect x="1144.5" y="442.6" width="48.6" height="0.9" fill="#2e2e35"/>
</g><rect x="519.20" y="38.55" width="103.80" height="2.80" fill="#000"/><rect x="569.70" y="871.45" width="105.30" height="2.80" fill="#000"/><rect x="1142.90" y="39.70" width="114.70" height="2.80" fill="#000"/><rect x="1199.00" y="564.55" width="115.00" height="3.00" fill="#000"/></svg>
<div class="t" style="left:78.20px;top:3.21px">AD</div>
<div class="t" style="left:332.90px;top:3.21px">BD</div>
<div class="t" style="left:45.50px;top:48.21px">PADT7-T</div>
<div class="t" style="left:293.30px;top:48.21px;letter-spacing:-0.27px">PGBKT-53</div>
<div class="t" style="left:45.50px;top:100.21px">PGBKT7-T</div>
<div class="t" style="left:293.30px;top:100.21px;letter-spacing:-0.14px">PGBKT-lan</div>
<div class="t" style="left:0.30px;top:152.21px">BraA10gRGL3-Y2</div>
<div class="t" style="left:258.30px;top:152.21px">BraA05gGID1a-Y2</div>
<div class="t" style="left:0.30px;top:206.96px">BraA10gRGL3-Y2</div>
<div class="t" style="left:258.30px;top:206.96px">BraA05gGID1a-Y7</div>
<div class="t" style="left:0.30px;top:255.96px">BraA10gRGL3-Y2</div>
<div class="t" style="left:258.30px;top:255.96px">BraA04gGID1b1</div>
<div class="t" style="left:0.30px;top:306.96px">BraA10gRGL3-Y2</div>
<div class="t" style="left:258.30px;top:306.96px">BraA04gGID1b2</div>
<div class="t" style="left:0.30px;top:356.96px">BraA10gRGL3-Y2</div>
<div class="t" style="left:258.30px;top:356.96px">BraA04gGID1b3-Y2</div>
<div class="t" style="left:0.30px;top:408.96px">BraA10gRGL3-Y2</div>
<div class="t" style="left:258.30px;top:408.96px">BraA04gGID1b3-Y7</div>
<div class="t" style="left:0.30px;top:456.96px">BraA10gRGL3-Y2</div>
<div class="t" style="left:258.30px;top:456.96px">BraA06gGID1c1</div>
<div class="t" style="left:0.30px;top:510.21px">BraA10gRGL3-Y2</div>
<div class="t" style="left:258.30px;top:510.21px">BraA05gGID1a-Y2</div>
<div class="t" style="left:0.30px;top:564.46px">BraA10gRGL3-Y2</div>
<div class="t" style="left:258.30px;top:564.46px">BraA05gGID1a-Y7</div>
<div class="t" style="left:0.30px;top:612.46px">BraA10gRGL3-Y7</div>
<div class="t" style="left:258.30px;top:612.46px">BraA04gGID1b1</div>
<div class="t" style="left:0.30px;top:665.96px">BraA10gRGL3-Y7</div>
<div class="t" style="left:258.30px;top:665.96px">BraA04gGID1b2</div>
<div class="t" style="left:0.30px;top:713.96px">BraA10gRGL3-Y7</div>
<div class="t" style="left:258.30px;top:713.96px">BraA04gGID1b3-Y2</div>
<div class="t" style="left:0.30px;top:768.96px">BraA10gRGL3-Y7</div>
<div class="t" style="left:258.30px;top:768.96px">BraA04gGID1b3-Y7</div>
<div class="t" style="left:0.30px;top:818.96px">BraA10gRGL3-Y7</div>
<div class="t" style="left:258.30px;top:818.96px">BraA06gGID1c1</div>
<div class="t" style="left:540.20px;top:7.96px">-GA<sub>3</sub></div>
<div class="t" style="left:615.00px;top:7.96px">+GA<sub>3</sub></div>
<div class="t" style="left:772.30px;top:3.21px">AD</div>
<div class="t" style="left:983.70px;top:3.21px">BD</div>
<div class="t" style="left:690.70px;top:61.66px">BraA10gRGL3-Y2</div>
<div class="t" style="left:1009.70px;top:62.66px">-</div>
<div class="t" style="left:690.70px;top:108.96px">BraA10gRGL3-Y7</div>
<div class="t" style="left:1009.70px;top:109.96px">-</div>
<div class="t" style="left:803.20px;top:174.96px">-</div>
<div class="t" style="left:889.50px;top:174.36px">BraA05gGID1a-Y2</div>
<div class="t" style="left:803.20px;top:232.46px">-</div>
<div class="t" style="left:889.50px;top:231.86px">BraA05gGID1a-Y7</div>
<div class="t" style="left:803.20px;top:286.71px">-</div>
<div class="t" style="left:889.50px;top:286.11px">BraA04gGID1b1</div>
<div class="t" style="left:803.20px;top:344.96px">-</div>
<div class="t" style="left:889.50px;top:344.36px">BraA04gGID1b2</div>
<div class="t" style="left:803.20px;top:401.21px">-</div>
<div class="t" style="left:889.50px;top:400.61px">BraA04gGID1b3-Y2</div>
<div class="t" style="left:803.20px;top:456.96px">-</div>
<div class="t" style="left:889.50px;top:456.36px">BraA04gGID1b3-Y7</div>
<div class="t" style="left:803.20px;top:516.21px">-</div>
<div class="t" style="left:889.50px;top:515.61px">BraA06gGID1c1</div>
<div class="t" style="left:1174.20px;top:1.46px">-GA<sub>3</sub></div>
<div class="t" style="left:1249.70px;top:1.46px">+GA<sub>3</sub></div>
<div class="t r" style="left:425.20px;top:975.76px;transform-origin:0 25.54px;transform:matrix(0.7724,-0.6715,0.6149,0.7759,0,0)">SD/-leu-Trp</div>
<div class="t r" style="left:425.00px;top:1064.66px;transform-origin:0 25.54px;transform:matrix(0.7724,-0.6715,0.6149,0.7759,0,0)">SD/-leu-Trp-His-Ade</div>
<div class="t r" style="left:1058.40px;top:688.46px;transform-origin:0 25.54px;transform:matrix(0.7638,-0.6999,0.6350,0.7595,0,0)">SD/-leu-Trp</div>
<div class="t r" style="left:1063.80px;top:774.06px;transform-origin:0 25.54px;transform:matrix(0.7654,-0.6892,0.6284,0.7650,0,0)">SD/-leu-Trp-His-Ade</div>
</body></html>
